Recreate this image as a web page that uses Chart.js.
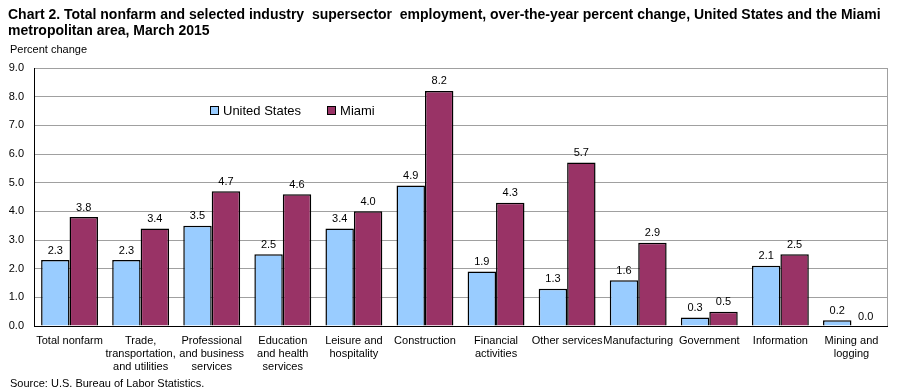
<!DOCTYPE html>
<html>
<head>
<meta charset="utf-8">
<script src="https://cdn.jsdelivr.net/npm/chart.js@4/dist/chart.umd.min.js"></script>
<style>
  body { margin:0; background:#fff; font-family: Arial, 'Liberation Sans', sans-serif; }
  #wrap { position:relative; width:901px; height:392px; }
  #wrap canvas { position:absolute; left:0; top:0; }
  .title { position:absolute; left:8px; top:6px; font-weight:bold; font-size:14px; line-height:16px; white-space:pre; color:#000; }
  .ylab { position:absolute; left:10px; top:43px; font-size:11px; color:#000; }
  .source { position:absolute; left:10px; top:377px; font-size:11px; color:#000; }
  .legend { position:absolute; left:210px; top:103px; font-size:13px; color:#000; display:flex; align-items:center; }
  .legend span.box { display:inline-block; width:7px; height:7px; border:1px solid #000; margin-right:4px; }
</style>
</head>
<body>
<div id="wrap">
  <canvas id="chart" width="901" height="392"></canvas>
  <div class="title">Chart 2. Total nonfarm and selected industry  supersector  employment, over-the-year percent change, United States and the Miami
metropolitan area, March 2015</div>
  <div class="ylab">Percent change</div>
  <div class="legend">
    <span class="box" style="background:#99ccff"></span><span style="margin-right:26px">United States</span>
    <span class="box" style="background:#993366"></span><span>Miami</span>
  </div>
  <div class="source">Source: U.S. Bureau of Labor Statistics.</div>
</div>
<script>
// categories and values
const categories = [
  'Total nonfarm',
  ['Trade,', 'transportation,', 'and utilities'],
  ['Professional', 'and business', 'services'],
  ['Education', 'and health', 'services'],
  ['Leisure and', 'hospitality'],
  'Construction',
  ['Financial', 'activities'],
  'Other services',
  'Manufacturing',
  'Government',
  'Information',
  ['Mining and', 'logging'],
];
const usValues    = [2.3, 2.3, 3.5, 2.5, 3.4, 4.9, 1.9, 1.3, 1.6, 0.3, 2.1, 0.2];
const miamiValues = [3.8, 3.4, 4.7, 4.6, 4.0, 8.2, 4.3, 5.7, 2.9, 0.5, 2.5, 0.0];
const yTicks = [0, 1, 2, 3, 4, 5, 6, 7, 8, 9];

const FONT = "Arial, 'Liberation Sans', sans-serif";

// value labels above each bar + gray right border of plot
const barLabels = {
  id: 'barLabels',
  afterDatasetsDraw(chart) {
    const ctx = chart.ctx;
    ctx.save();
    ctx.font = '11px ' + FONT;
    ctx.fillStyle = '#000';
    ctx.textAlign = 'center';
    ctx.textBaseline = 'bottom';
    chart.data.datasets.forEach((ds, i) => {
      chart.getDatasetMeta(i).data.forEach((bar, j) => {
        ctx.fillText(ds.data[j].toFixed(1), bar.x, bar.y - 4);
      });
    });
    const a = chart.chartArea;
    ctx.strokeStyle = '#a0a0a0';
    ctx.lineWidth = 1;
    ctx.beginPath();
    ctx.moveTo(Math.round(a.right) + 0.5, a.top);
    ctx.lineTo(Math.round(a.right) + 0.5, a.bottom);
    ctx.stroke();
    ctx.restore();
  }
};

new Chart(document.getElementById('chart'), {
  type: 'bar',
  data: {
    labels: categories,
    datasets: [
      { label: 'United States', data: usValues, backgroundColor: '#99ccff', borderColor: '#000', borderWidth: 1.5 },
      { label: 'Miami', data: miamiValues, backgroundColor: '#993366', borderColor: '#000', borderWidth: 1.5 },
    ],
  },
  options: {
    responsive: false,
    animation: false,
    devicePixelRatio: 1,
    layout: { padding: { top: 68, right: 14, left: 0, bottom: 0 } },
    datasets: { bar: { categoryPercentage: 0.8, barPercentage: 1.0 } },
    plugins: { legend: { display: false }, tooltip: { enabled: false } },
    scales: {
      x: {
        grid: { drawOnChartArea: false, drawTicks: false },
        border: { color: '#000', width: 1 },
        ticks: { color: '#000', font: { family: FONT, size: 11 }, padding: 8, maxRotation: 0, autoSkip: false },
        afterFit(scale) { scale.height = 66; },
      },
      y: {
        min: 0, max: 9,
        afterBuildTicks(scale) { scale.ticks = yTicks.map(v => ({ value: v })); },
        grid: { color: '#a0a0a0', drawTicks: false },
        border: { color: '#000', width: 1 },
        ticks: { color: '#000', font: { family: FONT, size: 11 }, padding: 10, callback: v => v.toFixed(1) },
        afterFit(scale) { scale.width = 34; },
      },
    },
  },
  plugins: [barLabels],
});
</script>
</body>
</html>
